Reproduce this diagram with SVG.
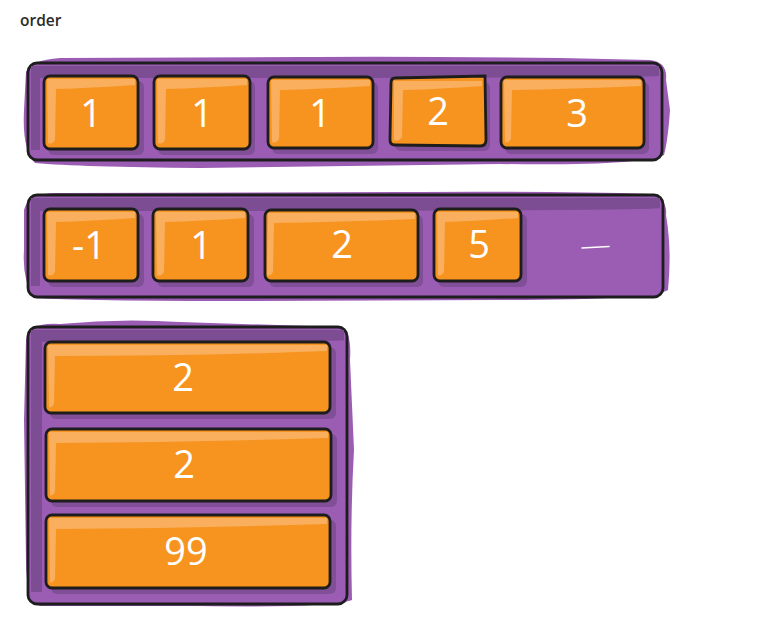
<svg xmlns="http://www.w3.org/2000/svg" width="771" height="622" viewBox="0 0 771 622">
<style>
.title{font-family:"Open Sans","Liberation Sans",sans-serif;font-size:15.5px;font-weight:600;fill:#2b2b2b}
.blob{fill:#9b5cb4}
.frame{fill:#9b5cb4;stroke:#1d1d1d;stroke-width:2.8}
.band{fill:#7c4d93}
.shadow{fill:#804f97}
.box{fill:#f6941f;stroke:#1d1d1d;stroke-width:2.8}
.hl{fill:#f9af5d}
.num{font-family:"Open Sans","Liberation Sans",sans-serif;font-size:38px;font-weight:400;fill:#fff;text-anchor:middle}
</style>
<rect width="771" height="622" fill="#fff"/>
<text class="title" x="20" y="26">order</text>

<g id="container-1">
<path class="blob" d="M26,72 Q30,60 60,58 L300,57 Q400,56 560,58 L650,60 Q668,62 666,80 L670,110 Q668,140 664,155 Q640,166 500,164 L200,168 Q80,167 35,163 Q22,150 24,110 Z"/>
<rect class="frame" x="28" y="63" width="634" height="97" rx="9"/>
<path class="band" d="M31,66 H659 V76 Q656,78 40,78 V150 H31 Z"/>
</g>
<g id="r1-1"><rect class="shadow" x="48" y="81" width="96" height="74" rx="6"/><rect class="box" x="44" y="76" width="94" height="73" rx="6"/><path class="hl" d="M47,79 H135 V85 Q90,88 56,89 L55,140 Q52,145 48,143 Z"/><text class="num" x="91" y="127">1</text></g>
<g id="r1-2"><rect class="shadow" x="158" y="81" width="97" height="74" rx="6"/><rect class="box" x="154" y="76" width="96" height="73" rx="6"/><path class="hl" d="M157,79 H247 V85 Q200,88 166,89 L165,140 Q162,145 158,143 Z"/><text class="num" x="202" y="127">1</text></g>
<g id="r1-3"><rect class="shadow" x="272" y="82" width="106" height="72" rx="6"/><rect class="box" x="268" y="77" width="105" height="71" rx="6"/><path class="hl" d="M271,80 H370 V86 Q320,89 280,90 L279,139 Q276,144 272,142 Z"/><text class="num" x="320" y="127">1</text></g>
<g id="r1-4"><rect class="shadow" x="395" y="82" width="95" height="69" rx="6"/><path class="box" d="M395,78 L485,76 L486,140 Q486,146 480,146 L395,145 Q390,145 390,140 L391,83 Q391,78 395,78 Z"/><path class="hl" d="M394,81 H482 V86 Q440,89 403,90 L402,137 Q399,142 394,140 Z"/><text class="num" x="438" y="125">2</text></g>
<g id="r1-5"><rect class="shadow" x="505" y="82" width="144" height="72" rx="6"/><rect class="box" x="501" y="77" width="143" height="71" rx="6"/><path class="hl" d="M504,80 H641 V86 Q570,89 512,90 L511,139 Q508,144 505,142 Z"/><text class="num" x="577" y="127">3</text></g>

<g id="container-2">
<path class="blob" d="M24,210 Q28,192 60,193 L400,192 Q560,191 650,194 Q668,200 666,215 Q672,250 668,290 Q650,300 500,300 L250,301 Q80,301 34,298 Q22,280 24,250 Z"/>
<rect class="frame" x="28" y="195" width="635" height="102" rx="9"/>
<path class="band" d="M31,198 H660 V208 Q656,211 40,211 V286 H31 Z"/>
<path d="M582,248 Q595,247 609,246.5" stroke="#fff" stroke-width="1.5" fill="none" stroke-linecap="round"/>
</g>
<g id="r2-1"><rect class="shadow" x="48" y="214" width="96" height="73" rx="6"/><rect class="box" x="44" y="209" width="94" height="72" rx="6"/><path class="hl" d="M47,212 H135 V218 Q90,221 56,222 L55,272 Q52,277 48,275 Z"/><text class="num" x="89" y="259">-1</text></g>
<g id="r2-2"><rect class="shadow" x="157" y="214" width="97" height="73" rx="6"/><rect class="box" x="153" y="209" width="95" height="72" rx="6"/><path class="hl" d="M156,212 H245 V218 Q200,221 165,222 L164,272 Q161,277 157,275 Z"/><text class="num" x="201" y="259">1</text></g>
<g id="r2-3"><rect class="shadow" x="269" y="215" width="154" height="72" rx="6"/><rect class="box" x="265" y="210" width="153" height="71" rx="6"/><path class="hl" d="M268,213 H415 V219 Q340,222 274,223 L273,272 Q270,277 267,275 Z"/><text class="num" x="342" y="258">2</text></g>
<g id="r2-4"><rect class="shadow" x="438" y="214" width="89" height="73" rx="6"/><rect class="box" x="434" y="209" width="87" height="72" rx="6"/><path class="hl" d="M437,212 H518 V218 Q480,221 445,222 L444,272 Q441,277 438,275 Z"/><text class="num" x="479" y="258">5</text></g>

<g id="container-3">
<path class="blob" d="M26,340 Q28,322 60,324 Q120,318 180,322 L340,327 Q352,330 350,360 L354,450 Q350,520 352,600 Q330,608 200,606 L40,606 Q26,600 26,560 L24,420 Z"/>
<rect class="frame" x="28" y="327" width="319" height="277" rx="9"/>
<path class="band" d="M31,330 H344 V340 Q340,342 42,342 V592 H31 Z"/>
</g>
<g id="c-1"><rect class="shadow" x="50" y="347" width="286" height="72" rx="6"/><rect class="box" x="45" y="342" width="285" height="71" rx="6"/><path class="hl" d="M48,345 H327 V351 Q200,356 55,356 L54,404 Q51,409 49,407 Z"/><text class="num" x="183" y="391">2</text></g>
<g id="c-2"><rect class="shadow" x="51" y="434" width="286" height="73" rx="6"/><rect class="box" x="46" y="429" width="285" height="72" rx="6"/><path class="hl" d="M49,432 H328 V438 Q200,442 56,443 L55,492 Q52,497 50,495 Z"/><text class="num" x="184" y="478">2</text></g>
<g id="c-3"><rect class="shadow" x="51" y="520" width="285" height="74" rx="6"/><rect class="box" x="46" y="515" width="284" height="73" rx="6"/><path class="hl" d="M49,518 H327 V524 Q200,528 56,529 L55,579 Q52,584 50,582 Z"/><text class="num" x="186" y="565">99</text></g>
</svg>
